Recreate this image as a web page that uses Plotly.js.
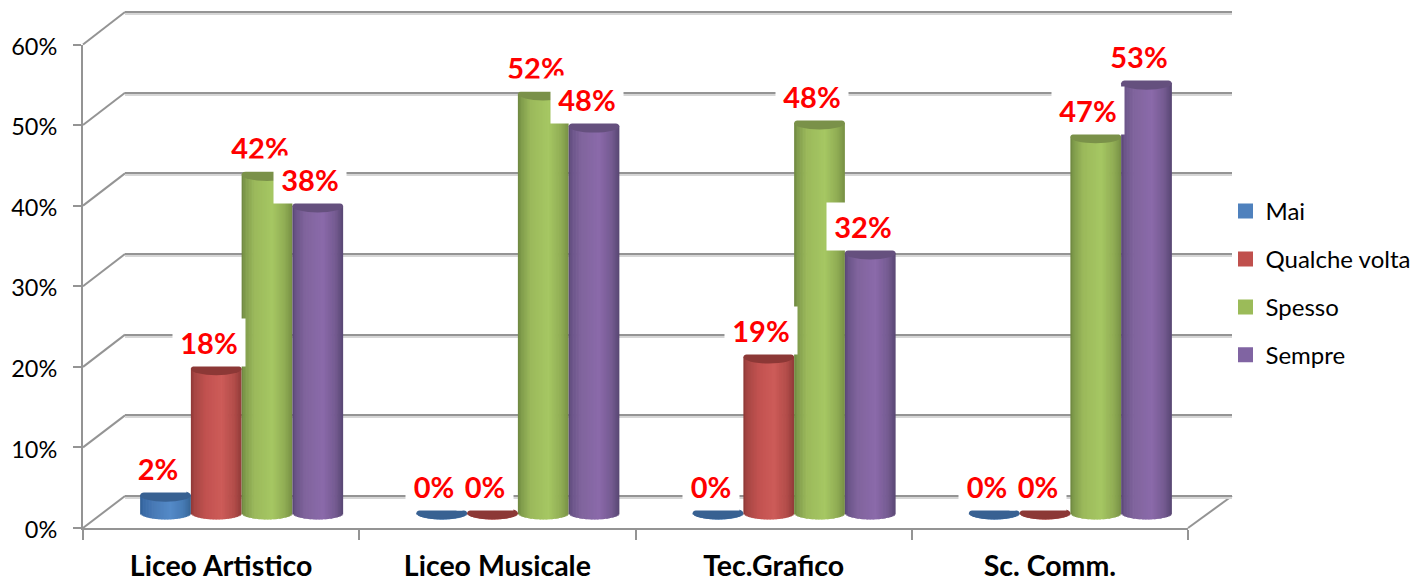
<!DOCTYPE html>
<html><head><meta charset="utf-8">
<script src="https://cdn.plot.ly/plotly-3.0.1.min.js"></script>
<style>html,body{margin:0;padding:0;background:#fff}#c{width:1413px;height:582px}</style>
</head><body><div id="c"></div>
<script>
var categories=['Liceo Artistico','Liceo Musicale','Tec.Grafico','Sc. Comm.'];
var seriesNames=['Mai','Qualche volta','Spesso','Sempre'];
var mai=[2.2,0,0,0];
var qualche=[17.9,0,19.35,0];
var spesso=[42,52,48.39,46.67];
var sempre=[38.1,48,32.26,53.33];
var yTicks=[0,10,20,30,40,50,60];
var baseColors=['#4f81bd','#c0504d','#9bbb59','#8064a2'];
var capColors=['#386192','#8c3836','#7a9149','#65507e'];
var shades=[
 [[0,'#2f5c92'],[0.06,'#3a6ba6'],[0.3,'#4a7cb8'],[0.6,'#548ac8'],[0.85,'#467ab4'],[1,'#376594']],
 [[0,'#8a3634'],[0.06,'#a54543'],[0.3,'#c25250'],[0.6,'#cd5c59'],[0.85,'#b34c49'],[1,'#8f3a38']],
 [[0,'#6c843f'],[0.06,'#7f9b4b'],[0.25,'#9bb95b'],[0.6,'#a6c763'],[0.85,'#90ad54'],[1,'#768f45']],
 [[0,'#564571'],[0.06,'#6a5488'],[0.25,'#80649d'],[0.6,'#8b6aaa'],[0.85,'#745a91'],[1,'#574672']]
];
var allSeries=[mai,qualche,spesso,sempre];

var W=1413,H=582;
var gridColor='#949494', gridShadow='#d6d6d6';
var front={l:83,r:1188,y0:528,y60:44.5};
var back={l:125,r:1232,y0:496,y60:12};
var barY0=513, pxPer=8.06, capK=6.5/pxPer, lowExt=2;
var groupPx=(front.r-front.l)/4;
var barW=50.75/groupPx, groupStart=-81/groupPx;
var strips=34;
var backPer=(back.y0-back.y60)/60;

function hex(c){return [1,3,5].map(function(i){return parseInt(c.substr(i,2),16);});}
function shade(stops,t){
  for(var i=1;i<stops.length;i++){ if(t<=stops[i][0]){
    var a=stops[i-1],b=stops[i],f=(t-a[0])/(b[0]-a[0]),A=hex(a[1]),B=hex(b[1]);
    return 'rgb('+A.map(function(v,k){return Math.round(v+(B[k]-v)*f);}).join(',')+')';
  }}
  return stops[stops.length-1][1];
}
function px(v){return v/W;} function py(v){return 1-v/H;}

var traces=[];
// invisible traces so that the frame sub-plots exist
traces.push({type:'scatter',mode:'none',x:[0,1],y:[0,60],xaxis:'x',yaxis:'y',showlegend:false,hoverinfo:'skip'});
traces.push({type:'scatter',mode:'none',x:[0,1],y:[0,60],xaxis:'x',yaxis:'y2',showlegend:false,hoverinfo:'skip'});
traces.push({type:'scatter',mode:'none',x:categories,y:yTicks.slice(0,4),xaxis:'x2',yaxis:'y3',showlegend:false,hoverinfo:'skip'});

var shapes=[], annotations=[];
allSeries.forEach(function(vals,s){
  var left=groupStart+s*barW;
  // legend entry: true values, hidden inside the cylinder body
  traces.push({type:'bar',name:seriesNames[s],x:categories,y:vals,xaxis:'x2',yaxis:'y4',
    offset:left+barW*0.3,width:barW*0.4,marker:{color:baseColors[s],line:{width:3,color:baseColors[s]}},
    legendgroup:seriesNames[s],showlegend:true,hoverinfo:'skip'});
  for(var k=0;k<strips;k++){
    var t=(k+0.5)/strips, u=2*t-1, drop=capK*Math.sqrt(1-u*u);
    var remain=barW-k*barW/strips, sw=barW/strips*1.5;
    traces.push({type:'bar',x:categories,
      y:vals.map(function(v){return v+drop;}),
      base:vals.map(function(){return -drop;}),
      xaxis:'x2',yaxis:'y4',offset:left+k*barW/strips,width:Math.min(sw,remain),
      marker:{color:shade(shades[s],t),line:{width:0}},
      legendgroup:seriesNames[s],showlegend:false,hoverinfo:'skip'});
  }
  vals.forEach(function(v,g){
    shapes.push({type:'circle',xref:'x2',yref:'y4',layer:'above',
      x0:g+left,x1:g+left+barW,y0:v-capK,y1:v+capK,
      fillcolor:capColors[s],line:{width:0}});
  });
});

// labels (drawn after all cylinders, the white box cuts what lies behind)
allSeries.forEach(function(vals,s){
  var center=groupStart+(s+0.5)*barW;
  vals.forEach(function(v,g){
    var txt=Math.round(v)+'%', wide=txt.length>2;
    annotations.push({xref:'x2',yref:'y4',x:g+center,y:v,xanchor:'center',yanchor:'bottom',
      xshift:-7.5,yshift:2,showarrow:false,text:'<b>'+txt+'</b>',
      width:wide?72:56,height:47,bgcolor:'#fff',borderpad:0,valign:'middle',align:'center',
      font:{family:'Lato',size:29,color:'#ff0000'}});
    var nx=allSeries[s+1];
    if(nx&&v>30&&nx[g]<v&&v-nx[g]<5){
      annotations.push({xref:'x2',yref:'y4',x:g+center,y:v,xanchor:'center',yanchor:'bottom',
        xshift:-7.5,yshift:2,showarrow:false,text:' ',width:72,height:12,bgcolor:'#fff',borderpad:0,font:{size:8}});
    }
  });
});

// slanted frame lines
yTicks.forEach(function(t){
  var a=front.y0-(front.y0-front.y60)*t/60, b=back.y0-(back.y0-back.y60)*t/60;
  shapes.push({type:'line',xref:'paper',yref:'paper',layer:'below',x0:px(front.l),x1:px(back.l),y0:py(a),y1:py(b),line:{color:gridColor,width:2}});
});
shapes.push({type:'line',xref:'paper',yref:'paper',layer:'below',x0:px(front.r),x1:px(back.r),y0:py(front.y0),y1:py(back.y0),line:{color:gridColor,width:2}});

function gridAxis(shift,color){
  return {domain:[py(back.y0+shift+backPer),py(back.y60+shift-backPer)],range:[-1,61],anchor:'x',showgrid:true,gridcolor:color,gridwidth:2,
    zeroline:false,showline:false,ticks:'',showticklabels:false,tickvals:yTicks};
}
var layout={
  width:W,height:H,paper_bgcolor:'#fff',plot_bgcolor:'rgba(0,0,0,0)',
  margin:{l:0,r:0,t:0,b:0,pad:0,autoexpand:false},
  barmode:'overlay',showlegend:true,
  font:{family:'Lato',color:'#000'},
  xaxis:{domain:[px(back.l),px(back.r)],range:[0,1],visible:false,anchor:'y'},
  yaxis:gridAxis(2,gridShadow),
  yaxis2:gridAxis(0,gridColor),
  xaxis2:{domain:[px(front.l),px(front.r)],type:'category',categoryorder:'array',categoryarray:categories,range:[-0.5,3.5],
    anchor:'y3',showgrid:false,zeroline:false,showline:true,linecolor:gridColor,linewidth:2,
    ticks:'outside',tickson:'boundaries',ticklen:10,tickwidth:2,tickcolor:gridColor,
    tickfont:{family:'Lato',size:28.5,color:'#000',weight:700},ticklabelstandoff:12},
  yaxis3:{domain:[py(front.y0),py(front.y60)],range:[0,60],anchor:'x2',showgrid:false,zeroline:false,showline:true,
    linecolor:gridColor,linewidth:2,ticks:'outside',ticklen:8,tickwidth:2,tickcolor:gridColor,
    tickvals:yTicks,ticktext:yTicks.map(function(t){return t+'%';}),ticklabelstandoff:11,ticklabelshift:2,
    tickfont:{family:'Lato',size:23.5,color:'#000'}},
  yaxis4:{domain:[py(barY0+lowExt*pxPer),py(barY0-60*pxPer)],range:[-lowExt,60],anchor:'x2',visible:false},
  legend:{x:px(1225.5),xanchor:'left',y:py(189),yanchor:'top',bgcolor:'rgba(0,0,0,0)',borderwidth:0,
    font:{family:'Lato',size:24,color:'#000'},tracegroupgap:13.7,itemclick:false,itemdoubleclick:false},
  shapes:shapes,annotations:annotations
};
Plotly.newPlot('c',traces,layout,{staticPlot:true,displayModeBar:false});
</script></body></html>
